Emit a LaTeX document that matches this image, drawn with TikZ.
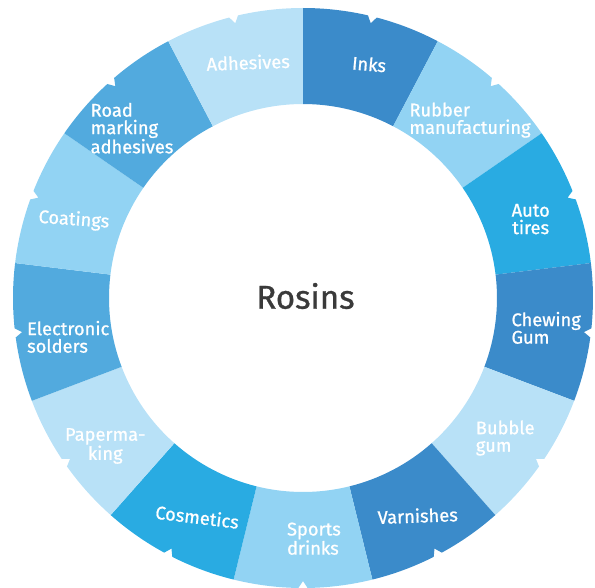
\documentclass[tikz,border=0pt]{standalone}
\usepackage{fontspec}
\setmainfont[FakeBold=0.9]{Fira Sans}

\definecolor{inkblue}{RGB}{59,139,202}
\definecolor{skyblue}{RGB}{146,211,243}
\definecolor{cyanblue}{RGB}{41,171,226}
\definecolor{paleblue}{RGB}{184,225,247}
\definecolor{midblue}{RGB}{82,170,222}
\definecolor{rosingray}{RGB}{58,58,58}

% one piece of the ring: start angle, end angle, colour (small notch on the rim)
\newcommand{\ringpart}[3]{%
  \pgfmathsetmacro{\pmid}{(#1+#2)/2}%
  \fill[#3] (#1:290) arc[start angle=#1, end angle={\pmid+0.9}, radius=290pt]
    -- (\pmid:283) -- ({\pmid-0.9}:290)
    arc[start angle={\pmid-0.9}, end angle=#2, radius=290pt]
    -- (#2:194) arc[start angle=#2, end angle=#1, radius=194pt] -- cycle;}

\begin{document}
\begin{tikzpicture}[x=1pt, y=1pt,
    lbl/.style={text=white, font=\fontsize{18.3}{17.5}\selectfont, align=left, inner sep=0pt}]

    \useasboundingbox (-303,-289) rectangle (292,298);

    % ring, clockwise from the top
    \ringpart{90}{62.308}{inkblue}
    \ringpart{62.308}{34.615}{skyblue}
    \ringpart{34.615}{6.923}{cyanblue}
    \ringpart{6.923}{-20.769}{inkblue}
    \ringpart{-20.769}{-48.462}{paleblue}
    \ringpart{-48.462}{-76.154}{inkblue}
    \ringpart{-76.154}{-103.846}{skyblue}
    \ringpart{-103.846}{-131.538}{cyanblue}
    \ringpart{-131.538}{-159.231}{paleblue}
    \ringpart{-159.231}{-186.923}{midblue}
    \ringpart{-186.923}{-214.615}{skyblue}
    \ringpart{-214.615}{-242.308}{midblue}
    \ringpart{-242.308}{-270}{paleblue}

    % labels
    \node[lbl, rotate=2] (adhesives) at (103.1:242) {Adhesives};
    \node[lbl, rotate=-5] (inks) at (74.2:243) {Inks};
    \node[lbl] (rubber) at (46.8:244) {Rubber\\manufacturing};
    \node[lbl, align=center] (tires) at (19.1:241) {Auto\\tires};
    \node[lbl] (chewing) at (-7:245) {Chewing\\Gum};
    \node[lbl] (bubble) at (-34.7:246) {Bubble\\gum};
    \node[lbl, rotate=2] (varnishes) at (-62.2:246) {Varnishes};
    \node[lbl] (sports) at (-87.4:241) {Sports\\drinks};
    \node[lbl, rotate=-7] (cosmetics) at (-115.8:243) {Cosmetics};
    \node[lbl, align=center] (paper) at (-143.2:247) {Paperma-\\king};
    \node[lbl] (solders) at (-170.6:238) {Electronic\\solders};
    \node[lbl, rotate=-4] (coatings) at (161.2:242) {Coatings};
    \node[lbl] (road) at (135.2:241) {Road\\marking\\adhesives};

    % centre
    \node[text=rosingray, font=\fontsize{33}{36}\selectfont, inner sep=0pt] (rosins) at (2.5,2) {Rosins};

\end{tikzpicture}
\end{document}
